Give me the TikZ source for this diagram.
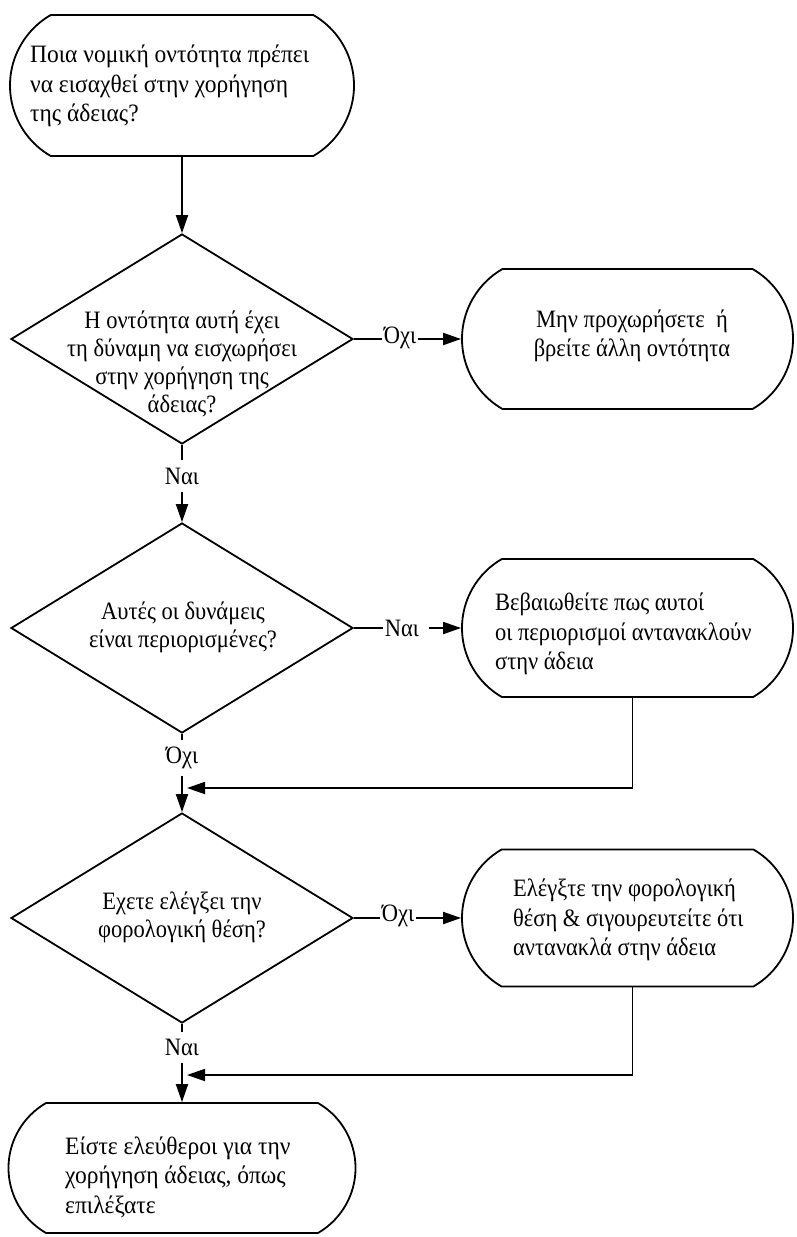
\documentclass[tikz,border=0pt]{standalone}
\usepackage{fontspec}
\setmainfont{Liberation Serif}
\newfontfamily\condfont[FakeStretch=0.9]{Liberation Serif}
\newfontfamily\widefont[FakeStretch=0.94]{Liberation Serif}
\usetikzlibrary{shapes.geometric,shapes.misc,arrows.meta}
\tikzset{
  lw/.style={line width=1.8pt},
  term/.style={shape=rounded rectangle, rounded rectangle arc length=120, draw, lw, inner sep=0pt},
  dec/.style={shape=diamond, draw, lw, inner sep=0pt, minimum width=342pt},
  txt/.style={font=\widefont\fontsize{25}{29.5}\selectfont, inner sep=0pt},
  ctxt/.style={font=\condfont\fontsize{25}{28}\selectfont, inner sep=0pt},
  btxt/.style={font=\condfont\fontsize{25}{29.5}\selectfont, inner sep=0pt},
  lab/.style={font=\condfont\fontsize{25}{29.5}\selectfont, inner sep=2pt},
  vlab/.style={font=\condfont\fontsize{25}{29.5}\selectfont, inner xsep=1pt, inner ysep=7pt},
  arr/.style={lw, -{Triangle[length=18pt,width=12pt]}},
  ln/.style={lw}
}
\begin{document}
\begin{tikzpicture}[x=1pt,y=-1pt]
\useasboundingbox (0,0) rectangle (796,1237);
% shapes
\node[term, minimum width=344pt, minimum height=141pt] (top) at (182,85.5) {};
\node[dec, minimum height=210pt] (d1) at (182,339) {};
\node[dec, minimum height=210pt] (d2) at (182,628) {};
\node[dec, minimum height=210pt] (d3) at (182,918) {};
\node[term, minimum width=331pt, minimum height=140pt] (b1) at (627.5,339) {};
\node[term, minimum width=331pt, minimum height=138pt] (b2) at (627.5,628) {};
\node[term, minimum width=331pt, minimum height=137pt] (b3) at (627.5,918) {};
\node[term, minimum width=347pt, minimum height=130pt] (bot) at (182,1168) {};
% texts
\node[txt, anchor=west, align=left] (t0) at (30,86) {Ποια νομική οντότητα πρέπει\\να εισαχθεί στην χορήγηση\\της άδειας?};
\node[ctxt, align=center] (t1) at (182,364) {Η οντότητα αυτή έχει\\τη δύναμη να εισχωρήσει\\στην χορήγηση της\\άδειας?};
\node[ctxt, align=center] (t2) at (183,627) {Αυτές οι δυνάμεις\\είναι περιορισμένες?};
\node[ctxt, align=center] (t3) at (182,917) {Εχετε ελέγξει την\\φορολογική θέση?};
\node[btxt, align=center] (tb1) at (632,336) {Μην προχωρήσετε\ \ ή\\βρείτε άλλη οντότητα};
\node[btxt, anchor=west, align=left] (tb2) at (495,634) {Βεβαιωθείτε πως αυτοί\\οι περιορισμοί αντανακλούν\\στην άδεια};
\node[btxt, anchor=west, align=left] (tb3) at (513,920) {Ελέγξτε την φορολογική\\θέση \& σιγουρευτείτε ότι\\αντανακλά στην άδεια};
\node[txt, anchor=west, align=left] (tbot) at (65,1177) {Είστε ελεύθεροι για την\\χορήγηση άδειας, όπως\\επιλέξατε};
% labels
\node[lab] (l1) at (400,338) {Όχι};
\node[vlab] (l2) at (182,476) {Ναι};
\node[lab] (l3) at (402,628) {Ναι};
\node[vlab] (l4) at (182,758) {Όχι};
\node[lab] (l5) at (398,916) {Όχι};
\node[vlab] (l6) at (182,1047) {Ναι};
\coordinate (j1) at (187,788);
\coordinate (j2) at (187,1075);
% connectors
\draw[arr] (top.south) -- (d1.north);
\draw[ln] (d1.east) -- (d1.east -| l1.west);
\draw[arr] (l1.east |- b1.west) -- (b1.west);
\draw[ln] (d1.south) -- (l2.north);
\draw[arr] (l2.south) -- (d2.north);
\draw[ln] (d2.east) -- (d2.east -| l3.west);
\draw[arr] ([xshift=8pt]l3.east |- b2.west) -- (b2.west);
\draw[ln] (d2.south) -- (l4.north);
\draw[arr] (l4.south) -- (d3.north);
\draw[arr] ([xshift=5pt]b2.south) |- (j1);
\draw[ln] (d3.east) -- (d3.east -| l5.west);
\draw[arr] (l5.east |- b3.west) -- (b3.west);
\draw[ln] (d3.south) -- (l6.north);
\draw[arr] (l6.south) -- (bot.north);
\draw[arr] ([xshift=5pt]b3.south) |- (j2);
\end{tikzpicture}
\end{document}
